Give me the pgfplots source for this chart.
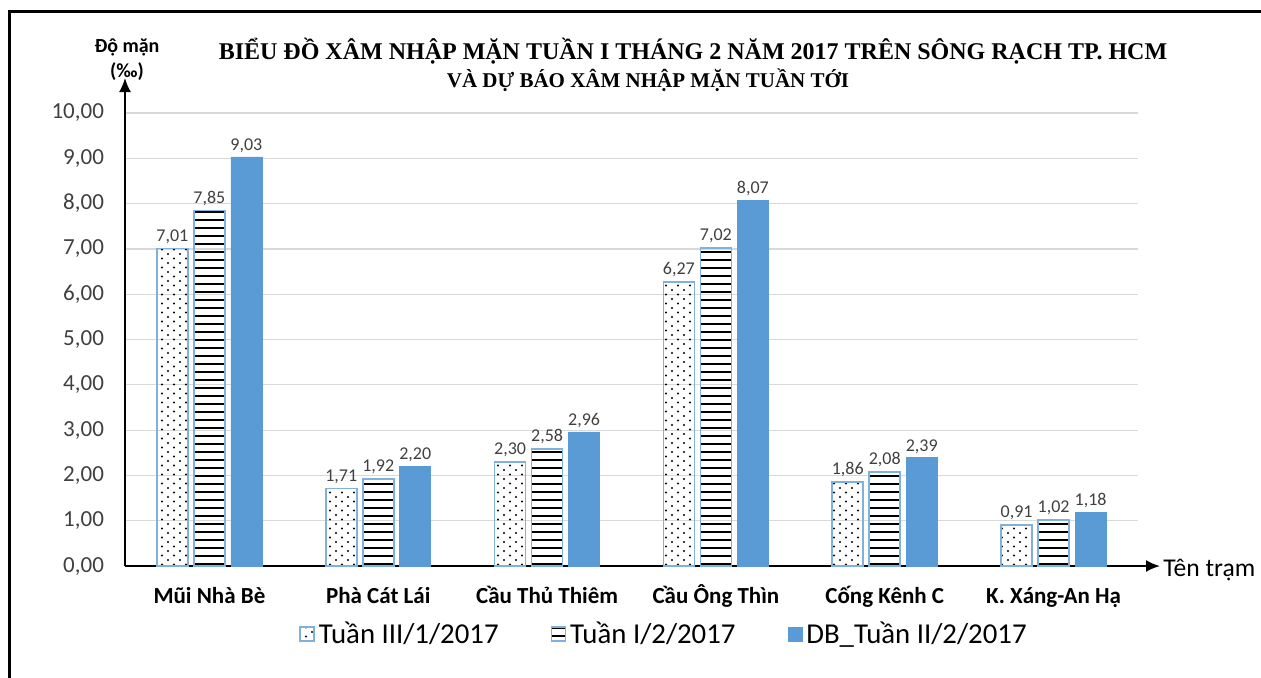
\documentclass[border=0pt]{standalone}
\usepackage{fontspec}
\setmainfont{Carlito}
\newfontfamily\titlefont{Liberation Serif}
\usepackage{pgfplots}
\pgfplotsset{compat=1.18}
\usetikzlibrary{patterns,arrows.meta}
\definecolor{barblue}{HTML}{5B9BD5}
\definecolor{barborder}{HTML}{7FB0DE}
\definecolor{gridgray}{HTML}{D9D9D9}
\definecolor{lbl}{HTML}{404040}
\pgfdeclarepatternformonly{thickhlines}{\pgfpointorigin}{\pgfqpoint{100pt}{1.2pt}}{\pgfqpoint{100pt}{4pt}}{%
  \pgfsetlinewidth{1.1pt}\pgfpathmoveto{\pgfqpoint{0pt}{0.6pt}}\pgfpathlineto{\pgfqpoint{100pt}{0.6pt}}\pgfusepath{stroke}}
\pgfdeclarepatternformonly{sparsedots}{\pgfqpoint{-1pt}{-1pt}}{\pgfqpoint{5pt}{4pt}}{\pgfqpoint{6pt}{4.5pt}}{%
  \pgfpathcircle{\pgfqpoint{0pt}{0pt}}{.55pt}\pgfpathcircle{\pgfqpoint{3pt}{2.25pt}}{.55pt}\pgfusepath{fill}}
\pgfplotstableread{
x s1 s2 s3
0 7.01 7.85 9.03
1 1.71 1.92 2.20
2 2.30 2.58 2.96
3 6.27 7.02 8.07
4 1.86 2.08 2.39
5 0.91 1.02 1.18
}\datatable
\begin{document}
\begin{tikzpicture}
\path[use as bounding box] (-62.5pt,-55.5pt) rectangle (568pt,283pt);
\draw[line width=1.5pt] (-57.5pt,-70pt) -- (-57.5pt,277.5pt) -- (580pt,277.5pt);
\begin{axis}[
  at={(0,0)}, anchor=south west,
  scale only axis, width=506.5pt, height=226.5pt,
  xmin=-0.5, xmax=5.5, ymin=0, ymax=10,
  ybar=3pt, bar width=15.5pt,
  axis lines=left,
  x axis line style={line width=1pt,-{Latex[length=7pt,width=6pt]}, shorten >=-11pt},
  y axis line style={line width=1pt,-{Latex[length=7pt,width=6pt]}, shorten >=-17.5pt},
  ytick={0,1,...,10},
  xtick=data,
  xticklabels={Mũi Nhà Bè, Phà Cát Lái, Cầu Thủ Thiêm, Cầu Ông Thìn, Cống Kênh C, K. Xáng-An Hạ},
  major tick length=0pt,
  ymajorgrids, grid style={gridgray, line width=0.6pt},
  /pgf/number format/assume math mode=true,
  yticklabel style={/pgf/number format/.cd, fixed, fixed zerofill, precision=2, use comma, /tikz/.cd, font=\fontsize{11.5}{13}\selectfont, text=lbl, xshift=-7pt},
  xticklabel style={font=\bfseries\fontsize{11.5}{13}\selectfont, text=black, anchor=base, yshift=-18.5pt},
  nodes near coords,
  nodes near coords style={/pgf/number format/.cd, fixed, fixed zerofill, precision=2, use comma, assume math mode=true, /tikz/.cd, font=\fontsize{9}{10}\selectfont, text=lbl, inner sep=2pt},
  legend style={at={(0.533,-0.150)}, anchor=center, draw=none, legend columns=3, font=\fontsize{14.4}{16}\selectfont, text=black, /tikz/every even column/.append style={column sep=24pt}},
  clip=false,
]
\addplot[draw=barborder, line width=0.9pt, pattern=sparsedots, pattern color=black, legend image code/.code={\draw[draw=barborder,line width=0.8pt,pattern=sparsedots] (0pt,-3.5pt) rectangle (7pt,3.5pt);}] table[x=x,y=s1] {\datatable};
\addplot[draw=barborder, line width=0.9pt, pattern=thickhlines, pattern color=black, legend image code/.code={\draw[draw=barborder,line width=0.8pt,pattern=thickhlines] (0pt,-3.5pt) rectangle (7pt,3.5pt);}] table[x=x,y=s2] {\datatable};
\addplot[draw=barblue, fill=barblue, legend image code/.code={\draw[draw=barblue,fill=barblue] (0pt,-3.5pt) rectangle (7pt,3.5pt);}] table[x=x,y=s3] {\datatable};
\legend{Tuần III/1/2017, Tuần I/2/2017, DB\_Tuần II/2/2017}
\end{axis}
\node[font=\titlefont\bfseries\fontsize{12}{13}\selectfont] at (284pt,257.5pt) {BIỂU ĐỒ XÂM NHẬP MẶN TUẦN I THÁNG 2 NĂM 2017 TRÊN SÔNG RẠCH TP. HCM};
\node[font=\titlefont\bfseries\fontsize{10.5}{12}\selectfont] at (261.5pt,243pt) {VÀ DỰ BÁO XÂM NHẬP MẶN TUẦN TỚI};
\node[font=\bfseries\fontsize{10}{12}\selectfont] at (1pt,259.5pt) {Độ mặn};
\node[font=\bfseries\fontsize{10}{12}\selectfont] at (1pt,247pt) {(‰)};
\node[font=\fontsize{12.8}{14}\selectfont, anchor=west, inner sep=0pt] at (519pt,-2pt) {Tên trạm};
\end{tikzpicture}
\end{document}
